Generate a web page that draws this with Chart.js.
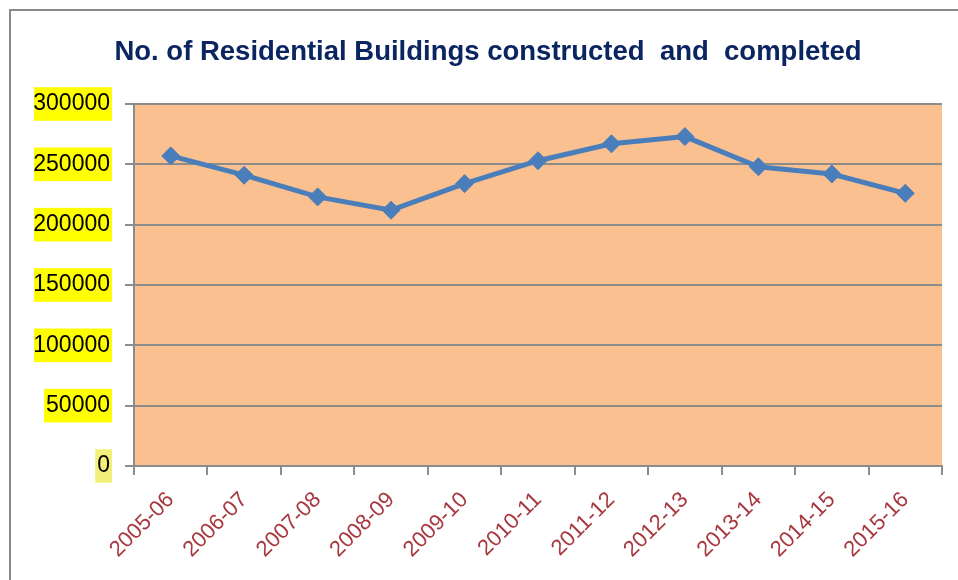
<!DOCTYPE html>
<html>
<head>
<meta charset="utf-8">
<script src="https://cdn.jsdelivr.net/npm/chart.js@4/dist/chart.umd.min.js"></script>
<style>
  html, body { margin: 0; padding: 0; background: #ffffff; }
  #wrap { position: relative; width: 958px; height: 580px; overflow: hidden; }
  #frame { position: absolute; left: 9px; top: 9px; width: 2000px; height: 2000px;
           border-left: 2px solid #8a8a8a; border-top: 2px solid #8a8a8a; }
  canvas { position: absolute; left: 0; top: 0; }
</style>
</head>
<body>
<div id="wrap">
  <div id="frame"></div>
  <canvas id="c" width="958" height="580"></canvas>
</div>
<script>
const titleText = "No. of Residential Buildings constructed  and  completed";
const years = ["2005-06", "2006-07", "2007-08", "2008-09", "2009-10", "2010-11",
               "2011-12", "2012-13", "2013-14", "2014-15", "2015-16"];
const buildings = [257000, 241000, 223000, 212000, 234000, 253000,
                   267000, 273000, 248000, 242000, 226000];
const yTicks = [0, 50000, 100000, 150000, 200000, 250000, 300000];

const plotBg = {
  id: 'plotBg',
  beforeDraw(chart) {
    const a = chart.chartArea, ctx = chart.ctx;
    ctx.save();
    ctx.fillStyle = '#FAC090';
    ctx.fillRect(a.left, a.top, a.right - a.left, a.bottom - a.top);
    ctx.restore();
  }
};

new Chart(document.getElementById('c'), {
  type: 'line',
  data: {
    labels: years,
    datasets: [{
      data: buildings,
      borderColor: '#4A7EBB',
      backgroundColor: '#4A7EBB',
      borderWidth: 5,
      pointStyle: 'rectRot',
      pointRadius: 9,
      pointBorderWidth: 1,
      pointBorderColor: '#4A7EBB',
      pointBackgroundColor: '#4A7EBB',
      tension: 0,
      fill: false
    }]
  },
  plugins: [plotBg],
  options: {
    responsive: false,
    animation: false,
    devicePixelRatio: 1,
    layout: { padding: { left: 34, right: 16, top: 0, bottom: 0 } },
    plugins: {
      legend: { display: false },
      tooltip: { enabled: false },
      title: {
        display: true,
        text: titleText,
        color: '#0B2560',
        font: { family: 'Liberation Sans', size: 27.5, weight: 'bold' },
        padding: { top: 36, bottom: 35 }
      }
    },
    scales: {
      x: {
        type: 'category',
        offset: true,
        grid: { offset: true, drawOnChartArea: false, drawTicks: true, tickLength: 9,
                color: '#8c8c8c', lineWidth: 2 },
        border: { display: true, color: '#8c8c8c', width: 2 },
        ticks: {
          color: '#A8383F',
          font: { family: 'Liberation Sans', size: 22 },
          minRotation: 45, maxRotation: 45,
          padding: 12,
          autoSkip: false
        },
        afterFit(scale) { scale.height = 114; }
      },
      y: {
        min: 0, max: 300000,
        afterBuildTicks(scale) { scale.ticks = yTicks.map(v => ({ value: v })); },
        grid: { color: '#8c8c8c', lineWidth: 2, tickLength: 9, drawTicks: true },
        border: { display: true, color: '#8c8c8c', width: 2 },
        ticks: {
          color: '#000000',
          font: { family: 'Liberation Sans', size: 23 },
          padding: 15,
          showLabelBackdrop: true,
          backdropColor: (ctx) => (ctx.tick && ctx.tick.value === 0) ? '#F3F07A' : '#FFFF00',
          backdropPadding: { top: 3, bottom: 3, left: 2, right: 2 },
          callback: (v) => String(v)
        },
        afterFit(scale) { scale.width = 100; }
      }
    }
  }
});
</script>
</body>
</html>
